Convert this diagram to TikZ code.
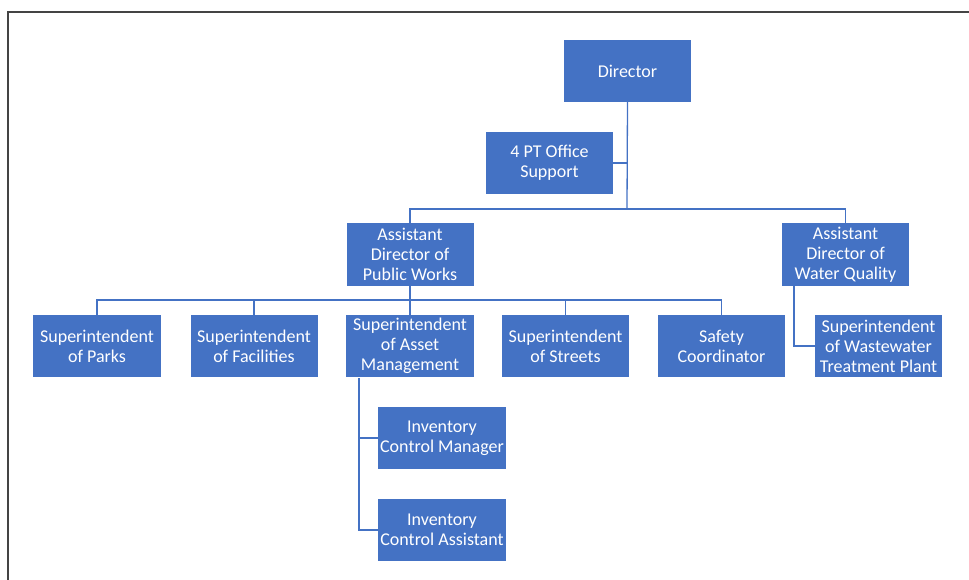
\documentclass[tikz,border=0pt]{standalone}
\usepackage{fontspec}
\setmainfont{Carlito}
\definecolor{orgblue}{HTML}{4472C4}
\definecolor{framegray}{HTML}{444444}
\tikzset{
  unit/.style={rectangle, fill=orgblue, text=white, align=center,
    inner sep=0pt, minimum width=127pt, minimum height=62pt,
    font=\fontsize{18}{20}\selectfont},
  conn/.style={draw=orgblue, line width=1.3pt},
  framing/.style={draw=framegray, line width=1.4pt}
}
\begin{document}
\begin{tikzpicture}[x=1pt,y=1pt]
\useasboundingbox (0,0) rectangle (969,-580);
% page frame
\coordinate (fbl) at (8,-580);
\coordinate (ftl) at (8,-12);
\coordinate (ftr) at (969,-12);
\draw[framing] (fbl) -- (ftl) -- (ftr);

% boxes
\node[unit] (dir) at (627.5,-71) {Director};
\node[unit] (off) at (549.5,-163) {4 PT Office\\Support};
\node[unit, minimum height=63pt] (adpw) at (410,-254.5) {Assistant\\Director of\\Public Works};
\node[unit, minimum height=63pt] (adwq) at (845.5,-254.5) {Assistant\\Director of\\Water Quality};
\node[unit, minimum width=128pt] (parks) at (97,-346) {Superintendent\\of Parks};
\node[unit, minimum width=127pt] (fac) at (254,-346) {Superintendent\\of Facilities};
\node[unit, minimum width=128pt] (asset) at (410,-346) {Superintendent\\of Asset\\Management};
\node[unit] (streets) at (565.5,-346) {Superintendent\\of Streets};
\node[unit] (safety) at (721.5,-346) {Safety\\Coordinator};
\node[unit] (ww) at (878.5,-346) {Superintendent\\of Wastewater\\Treatment Plant};
\node[unit, minimum width=128pt] (icm) at (442,-438) {Inventory\\Control Manager};
\node[unit, minimum width=128pt] (ica) at (442,-530) {Inventory\\Control Assistant};

% connectors
\coordinate (bus1) at (627,-209);
\coordinate (bus2) at (410,-300);
\coordinate (wqdrop) at (794,-286);
\coordinate (amdrop) at (359,-378);

\draw[conn] (dir.south) -- (bus1);
\draw[conn] (off.east) -- (off.east -| bus1);
\draw[conn] (adpw.north) |- (bus1) -| (adwq.north);

\draw[conn] (adpw.south) -- (bus2);
\draw[conn] (parks.north) |- (bus2) -| (safety.north);
\draw[conn] (fac.north) -- (fac.north |- bus2);
\draw[conn] (asset.north) -- (bus2);
\draw[conn] (streets.north) -- (streets.north |- bus2);

\draw[conn] (wqdrop) |- (ww.west);

\draw[conn] (amdrop) |- (ica.west);
\draw[conn] (icm.west) -- (icm.west -| amdrop);
\end{tikzpicture}
\end{document}
